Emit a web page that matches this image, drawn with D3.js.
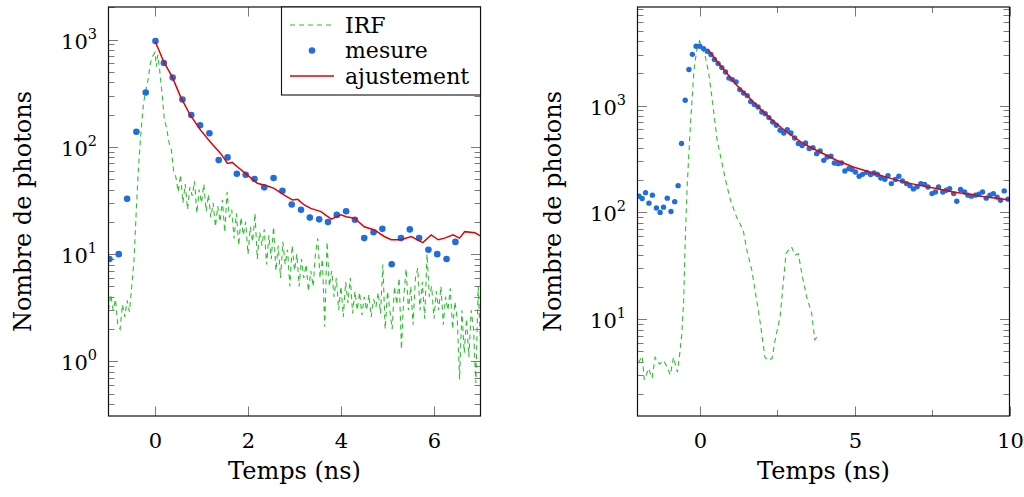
<!DOCTYPE html>
<html><head><meta charset="utf-8">
<script src="https://cdn.jsdelivr.net/npm/d3@7"></script>
<style>
body{margin:0;background:#fff}
svg{display:block}
text{font-family:"DejaVu Serif",serif;fill:#000}
</style>
</head><body>
<svg id="c" width="1024" height="497"></svg>
<script>
// ---------- LEFT PANEL DATA ----------
const leftMesT = [-0.98,-0.78,-0.60,-0.40,-0.20,0.01,0.19,0.38,0.59,0.78,0.97,1.17,1.37,1.56,1.76,1.95,2.14,2.35,2.55,2.74,2.94,3.14,3.33,3.53,3.72,3.91,4.11,4.30,4.50,4.70,4.89,5.09,5.29,5.48,5.68,5.88,6.07,6.27,6.46];
const leftMesV = [9.0,10.0,32.8,138,321,968,604,442,276,198,159,134,75.2,79.7,56.1,54.9,50.1,41.9,51.2,39.0,29.0,25.9,21.9,21.1,19.9,23.2,25.1,20.9,14.1,16.0,17.2,8.05,14.1,17.0,14.1,11.0,10.0,9.0,13.0];

const leftFitT = [0.01,0.19,0.37,0.55,0.76,0.98,1.19,1.41,1.56,1.66,1.77,1.99,2.20,2.42,2.56,2.78,2.96,3.07,3.21,3.35,3.57,3.79,4.00,4.11,4.29,4.50,4.72,4.93,5.08,5.29,5.51,5.76,5.94,6.09,6.23,6.41,6.55,6.66,6.88,7.02];
const leftFitV = [948,618,448,292,197,143,111,86.8,70.0,71.6,65.2,54.5,45.7,43.1,41.0,35.5,31.9,32.4,28.7,26.7,24.9,21.2,23.2,22.3,21.6,18.0,16.8,14.6,13.6,13.6,14.6,12.8,15.1,13.6,14.1,15.1,14.1,16.2,15.8,14.6];

const leftIrfT = [-1.00,-0.95,-0.90,-0.85,-0.80,-0.75,-0.70,-0.65,-0.60,-0.55,-0.50,-0.45,-0.40,-0.35,-0.30,-0.25,-0.20,-0.15,-0.10,-0.05,
0.00,0.03,0.06,0.10,0.15,0.20,0.25,0.30,0.35,0.40,0.45,0.50,0.55,0.60,0.65,0.70,0.75,0.80,0.85,0.90,0.95,
1.00,1.05,1.10,1.15,1.20,1.25,1.30,1.35,1.40,1.45,1.50,1.55,1.60,1.65,1.70,1.75,1.80,1.85,1.90,1.95,
2.00,2.05,2.10,2.15,2.20,2.25,2.30,2.35,2.40,2.45,2.50,2.55,2.60,2.65,2.70,2.75,2.80,2.85,2.90,2.95,
3.00,3.05,3.10,3.15,3.20,3.25,3.30,3.35,3.40,3.45,3.50,3.55,3.60,3.65,3.70,3.75,3.80,3.85,3.90,3.95,
4.00,4.05,4.10,4.15,4.20,4.25,4.30,4.35,4.40,4.45,4.50,4.55,4.60,4.65,4.70,4.75,4.80,4.85,4.90,4.95,
5.00,5.05,5.10,5.15,5.20,5.25,5.30,5.35,5.40,5.45,5.50,5.55,5.60,5.65,5.70,5.75,5.80,5.85,5.90,5.95,
6.00,6.05,6.10,6.15,6.20,6.25,6.30,6.35,6.40,6.45,6.50,6.55,6.60,6.65,6.70,6.75,6.80,6.85,6.90,6.95,7.00];
const leftIrfV = [3.0,4.2,3.0,3.8,2.2,2.0,3.4,2.6,3.7,2.9,5.0,9.0,27,70,140,250,330,420,600,700,
760,560,720,520,320,180,150,110,95,60,52,38,55,30,45,26,42,35,48,24,40,
30,45,25,36,22,30,18,28,20,32,16,38,22,26,14,24,12,22,15,20,
10,18,13,24,9,16,12,17,8,15,9,18,7,12,6,13,8,11,5,12,
7,10,5,9,6,8,4.5,7,5,10,14,6,9,2.1,13,5,7,4,6,3,
5,2.6,5.5,3.5,6,2.8,4.5,3,4.4,2.7,4,3,4.2,2.6,3.8,3.2,4.4,2.8,8,2,
4.5,3,2,5,3.4,6,1.3,4,7.3,3,5,2.2,6,7.4,3,5.5,2.5,10,4,5,
2.5,4.5,3,5,2.2,4,3,4.8,2,3.6,2.5,0.68,3,1.2,2.5,1.1,3,2,0.63,5,1.5];

// ---------- RIGHT PANEL DATA ----------
const rightMesT = [-1.95,-1.85,-1.74,-1.63,-1.52,-1.39,-1.27,-1.16,-1.04,-0.92,-0.80,-0.69,-0.58,-0.46,-0.34,-0.23,-0.11,0.01,0.13,0.25,
0.37,0.48,0.60,0.72,0.84,0.95,1.06,1.18,1.30,1.42,1.54,1.65,1.77,1.89,2.01,2.12,2.24,2.36,2.48,2.60,
2.72,2.83,2.95,3.07,3.19,3.31,3.42,3.54,3.66,3.78,3.89,4.01,4.12,4.24,4.35,4.47,4.58,4.69,4.82,4.92,
5.03,5.15,5.26,5.39,5.52,5.63,5.74,5.85,5.98,6.08,6.19,6.32,6.43,6.55,6.68,6.79,6.90,7.02,7.14,7.26,
7.37,7.50,7.61,7.71,7.85,7.96,8.07,8.20,8.30,8.42,8.55,8.66,8.77,8.90,9.01,9.13,9.25,9.37,9.48,9.60,9.71,9.83,9.95];
const rightMesV = [142,135,153,122,145,110,100,112,136,102,126,178,441,1121,2175,3020,3590,3590,3417,3223,
3005,2698,2474,2268,2064,1810,1752,1663,1412,1312,1240,1090,1022,970,871,841,772,702,654,587,
554,596,554,497,441,422,446,396,404,355,376,307,330,335,290,286,290,244,257,252,
239,218,227,237,226,234,226,210,204,221,186,203,218,197,186,178,166,174,186,183,
173,150,155,173,155,161,167,150,127,164,155,145,142,145,148,155,136,145,150,139,130,159,133];

const rightFitT = [0.29,0.67,1.20,1.74,2.28,2.81,3.35,3.88,4.42,4.96,5.49,6.03,6.57,7.10,7.64,8.18,8.71,9.25,9.89,10.0];
const rightFitV = [3296,2384,1549,1081,756,566,441,368,308,266,239,214,193,179,167,155,148,139,132,131];

const rightIrfT = [-1.97,-1.85,-1.78,-1.64,-1.53,-1.43,-1.29,-1.16,-1.05,-0.94,-0.84,-0.71,-0.64,-0.57,-0.51,-0.46,-0.40,-0.29,-0.18,-0.09,
0.00,0.19,0.30,0.44,0.57,0.73,0.84,1.00,1.20,1.41,1.53,1.69,1.79,1.90,2.01,2.11,2.22,2.34,2.44,2.60,
2.70,2.79,2.86,2.97,3.08,3.19,3.30,3.46,3.62,3.72,3.83];
const rightIrfV = [3.9,4.5,2.7,3.45,2.8,4.4,3.8,4.1,3.6,3.0,4.4,3.2,4.7,7.3,15,55,173,678,2142,3300,
4030,2856,1995,970,473,286,200,130,90,68,44,28.7,18.6,12.1,7.3,4.4,4.1,4.3,6.4,10.5,
21.5,41,44,47.5,39.6,41,26.7,16.1,11.3,6.4,7.1];

// ---------- AXES / LEGEND TEXT ----------
const xLabel = "Temps (ns)";
const yLabel = "Nombre de photons";
const legendLabels = ["IRF","mesure","ajustement"];
const leftXTicks = [0,2,4,6];
const rightXTicks = [0,5,10];
const rightXMinor = [2.5,7.5];

const C_IRF = "#2dbf2d", C_MES = "#1f6ddf", C_FIT = "#e60000";

const svg = d3.select("#c");
const zip = (a,b) => a.map((t,i)=>[t,b[i]]);

function panel(cfg){
  const x = d3.scaleLinear().domain(cfg.xDomain).range([cfg.left,cfg.right]);
  const y = d3.scaleLog().domain(cfg.yDomain).range([cfg.bottom,cfg.top]);
  const g = svg.append("g");
  const id = "clip"+cfg.name;
  svg.append("clipPath").attr("id",id).append("rect")
    .attr("x",cfg.left).attr("y",cfg.top).attr("width",cfg.right-cfg.left).attr("height",cfg.bottom-cfg.top);

  const tg = g.append("g").attr("stroke","#7a7a7a").attr("stroke-width",1);
  const allY = y.ticks(50).filter(v=>v>=cfg.yDomain[0]&&v<=cfg.yDomain[1]);
  allY.forEach(v=>{
    const major = Math.abs(Math.log10(v)-Math.round(Math.log10(v)))<1e-9;
    const len = major?9.5:6;
    const py = Math.round(y(v))+0.5;
    tg.append("line").attr("x1",cfg.left).attr("x2",cfg.left+len).attr("y1",py).attr("y2",py);
    tg.append("line").attr("x1",cfg.right-len).attr("x2",cfg.right).attr("y1",py).attr("y2",py);
    if(major){
      const k = Math.round(Math.log10(v));
      const t = g.append("text").attr("x",cfg.left-11.5).attr("y",py+8.5)
        .attr("text-anchor","end").attr("font-size",21);
      t.append("tspan").text("10");
      t.append("tspan").attr("dy",-10).attr("font-size",14.5).text(k);
    }
  });
  const xt = (arr,len,lab)=>arr.forEach(v=>{
    const px = Math.round(x(v))+0.5;
    tg.append("line").attr("x1",px).attr("x2",px).attr("y1",cfg.bottom).attr("y2",cfg.bottom-len);
    tg.append("line").attr("x1",px).attr("x2",px).attr("y1",cfg.top).attr("y2",cfg.top+len);
    if(lab) g.append("text").attr("x",px).attr("y",cfg.bottom+32).attr("text-anchor","middle")
      .attr("font-size",21).text(v);
  });
  xt(cfg.xTicks,9.5,true);
  if(cfg.xMinor) xt(cfg.xMinor,6,false);

  const dg = g.append("g").attr("clip-path",`url(#${id})`);
  const line = d3.line().x(d=>x(d[0])).y(d=>y(d[1]));
  dg.append("path").attr("d",line(zip(cfg.irfT,cfg.irfV))).attr("fill","none")
    .attr("stroke",C_IRF).attr("stroke-width",1.1).attr("stroke-dasharray","5,4");
  dg.selectAll("circle").data(zip(cfg.mesT,cfg.mesV)).join("circle")
    .attr("cx",d=>x(d[0])).attr("cy",d=>y(d[1])).attr("r",cfg.r).attr("fill",C_MES);
  dg.append("path").attr("d",line(zip(cfg.fitT,cfg.fitV))).attr("fill","none")
    .attr("stroke",C_FIT).attr("stroke-width",1.5);

  g.append("rect").attr("x",cfg.left).attr("y",cfg.top).attr("width",cfg.right-cfg.left)
    .attr("height",cfg.bottom-cfg.top).attr("fill","none").attr("stroke","#111").attr("stroke-width",1.2);

  g.append("text").attr("x",(cfg.left+cfg.right)/2).attr("y",479).attr("text-anchor","middle")
    .attr("font-size",24).text(xLabel);
  g.append("text").attr("transform",`translate(${cfg.yLabelX},${(cfg.top+cfg.bottom)/2}) rotate(-90)`)
    .attr("text-anchor","middle").attr("font-size",24).text(yLabel);

  if(cfg.legend){
    const L = g.append("g");
    L.append("rect").attr("x",281.5).attr("y",cfg.top).attr("width",cfg.right-281.5).attr("height",88)
      .attr("fill","#fff").attr("stroke","#111").attr("stroke-width",1.1);
    const rows=[25,50.5,76];
    L.append("line").attr("x1",290).attr("x2",334).attr("y1",rows[0]).attr("y2",rows[0])
      .attr("stroke",C_IRF).attr("stroke-width",1.1).attr("stroke-dasharray","5,4");
    L.append("circle").attr("cx",312).attr("cy",rows[1]).attr("r",3.3).attr("fill",C_MES);
    L.append("line").attr("x1",290).attr("x2",334).attr("y1",rows[2]).attr("y2",rows[2])
      .attr("stroke",C_FIT).attr("stroke-width",1.5);
    legendLabels.forEach((s,i)=>L.append("text").attr("x",345).attr("y",rows[i]+7.5)
      .attr("font-size",22).text(s));
  }
}

panel({name:"L",left:108.5,right:480.5,top:7,bottom:416,xDomain:[-1,7],yDomain:[0.31,2010],
  xTicks:leftXTicks,irfT:leftIrfT,irfV:leftIrfV,mesT:leftMesT,mesV:leftMesV,fitT:leftFitT,fitV:leftFitV,
  r:3.3,yLabelX:31,legend:true});
panel({name:"R",left:637.5,right:1009.5,top:7,bottom:416,xDomain:[-2,10],yDomain:[1.24,8380],
  xTicks:rightXTicks,xMinor:rightXMinor,irfT:rightIrfT,irfV:rightIrfV,mesT:rightMesT,mesV:rightMesV,
  fitT:rightFitT,fitV:rightFitV,r:2.7,yLabelX:561,legend:false});
</script>
</body></html>
